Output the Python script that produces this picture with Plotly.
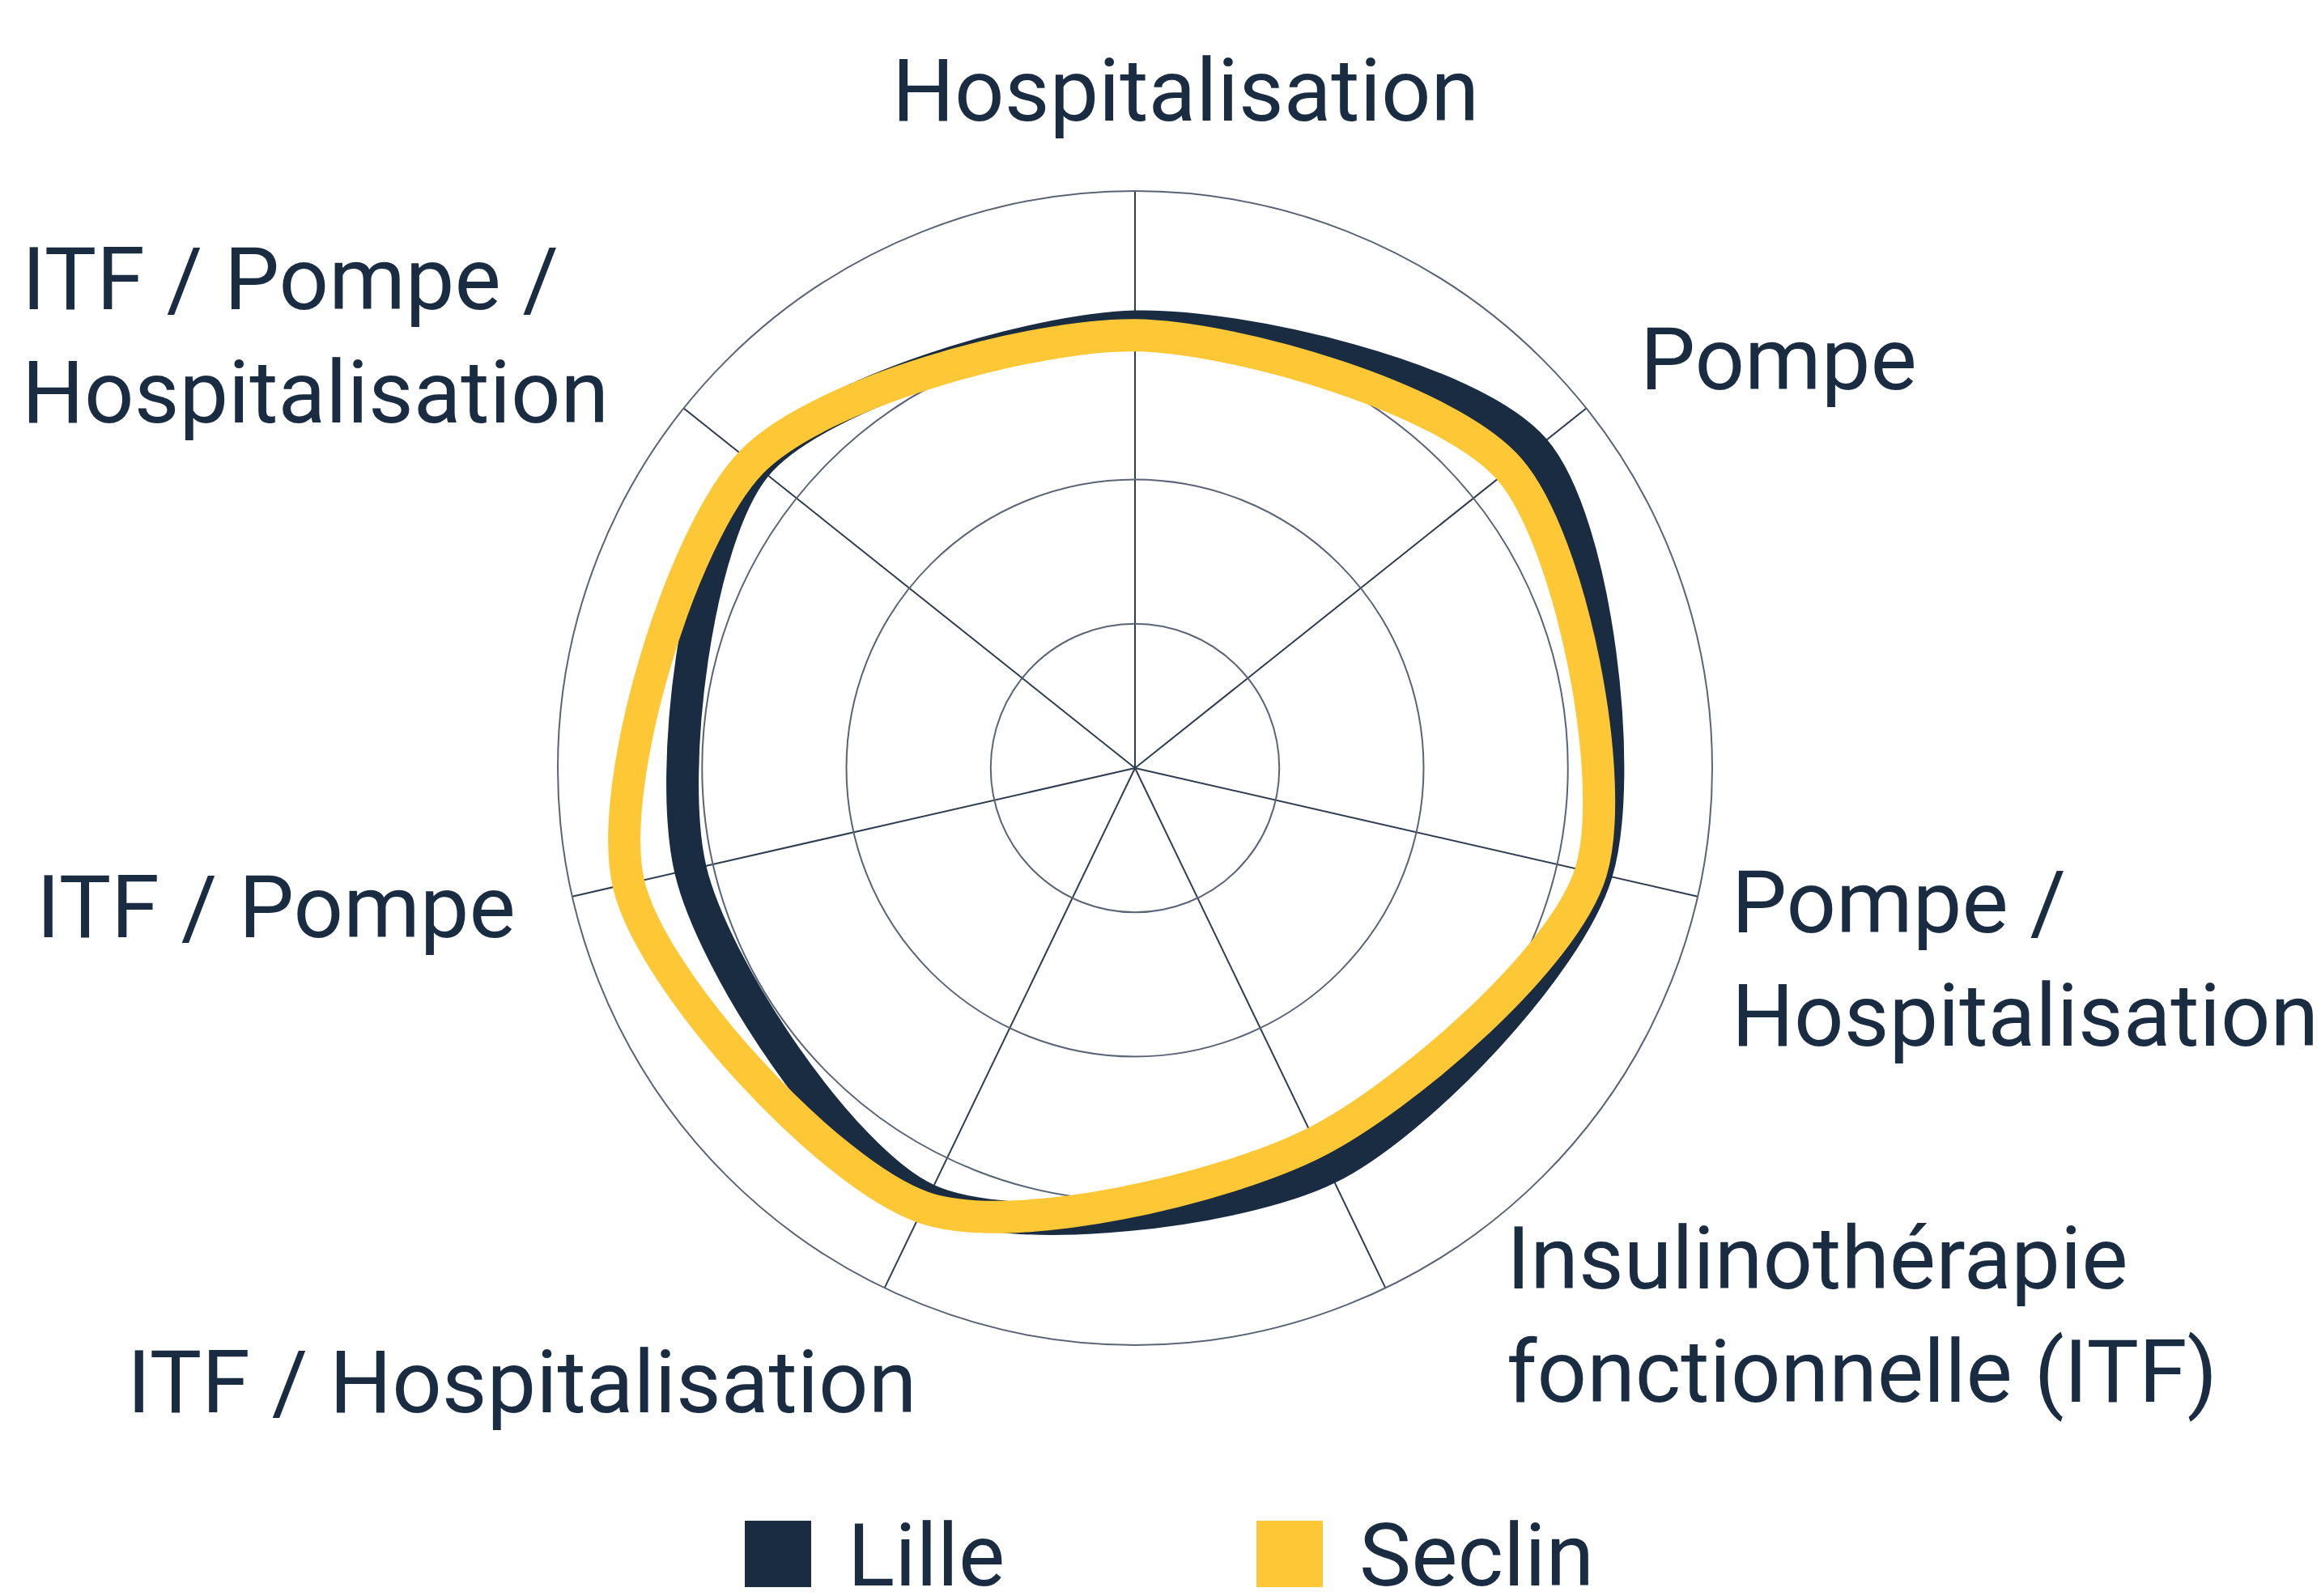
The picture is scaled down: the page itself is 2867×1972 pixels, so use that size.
import plotly.graph_objects as go

# page body has an 8px margin: draw a slightly smaller figure and offset coordinates
OFF = 8
W, H = 2867 - 2 * OFF, 1972 - 2 * OFF

categories = [
    "Hospitalisation",
    "Pompe",
    "Pompe /<br>Hospitalisation",
    "Insulinothérapie<br>fonctionnelle (ITF)",
    "ITF / Hospitalisation",
    "ITF / Pompe",
    "ITF / Pompe /<br>Hospitalisation",
]
series_names = ["Lille", "Seclin"]
lille = [76.5, 88.5, 82, 77, 83, 79, 84]
seclin = [75, 83, 81, 72, 84.5, 90, 85]
radial_ticks = [25, 50, 75]

NAVY = "#1a2c42"
YELLOW = "#fdc736"
SPOKE = "#2f3d52"
RING = "#5a6476"
FONT = "Roboto"


def px(x):
    return (x - OFF) / W


def py(y):
    return 1 - (y - OFF) / H


# label placement (page pixels, left x / middle y)
label_pos = [(1100, 112), (2024, 444), (2137, 1185), (1859, 1625),
             (155, 1708), (43, 1121), (25, 415)]

fig = go.Figure()
for name, vals, col in [(series_names[0], lille, NAVY), (series_names[1], seclin, YELLOW)]:
    fig.add_trace(go.Scatterpolar(
        r=vals + vals[:1],
        theta=categories + categories[:1],
        mode="lines",
        line=dict(color=col, width=40, shape="spline", smoothing=0.8),
        name=name,
        showlegend=False,
        hoverinfo="skip",
    ))

cx, cy, R = 1402, 949, 713
fig.update_layout(
    width=W, height=H,
    margin=dict(l=0, r=0, t=0, b=0),
    paper_bgcolor="white",
    plot_bgcolor="white",
    font=dict(family=FONT, color=NAVY),
    polar=dict(
        domain=dict(x=[px(cx - R), px(cx + R)], y=[py(cy + R), py(cy - R)]),
        bgcolor="white",
        radialaxis=dict(range=[0, 100], tickvals=radial_ticks, showticklabels=False,
                        ticks="", showline=False, gridcolor=RING, gridwidth=2),
        angularaxis=dict(rotation=90, direction="clockwise", showticklabels=False,
                         ticks="", showline=True, linecolor=RING, linewidth=2,
                         gridcolor=SPOKE, gridwidth=2),
    ),
)

annotations = []
for txt, (lx, ly) in zip(categories, label_pos):
    annotations.append(dict(
        text=txt, x=px(lx), y=py(ly), xref="paper", yref="paper",
        xanchor="left", yanchor="middle", align="left", showarrow=False,
        font=dict(family=FONT, size=108, color=NAVY),
    ))

# custom legend: squares + names
legend_items = [(series_names[0], NAVY, 920), (series_names[1], YELLOW, 1552)]
shapes = []
for name, col, lx in legend_items:
    shapes.append(dict(type="rect", xref="paper", yref="paper",
                       x0=px(lx), x1=px(lx + 82), y0=py(1961), y1=py(1879),
                       fillcolor=col, line=dict(width=0)))
    annotations.append(dict(
        text=name, x=px(lx + 125), y=py(1922), xref="paper", yref="paper",
        xanchor="left", yanchor="middle", showarrow=False,
        font=dict(family=FONT, size=108, color=NAVY),
    ))

fig.update_layout(annotations=annotations, shapes=shapes)
fig.write_html("out.html")
